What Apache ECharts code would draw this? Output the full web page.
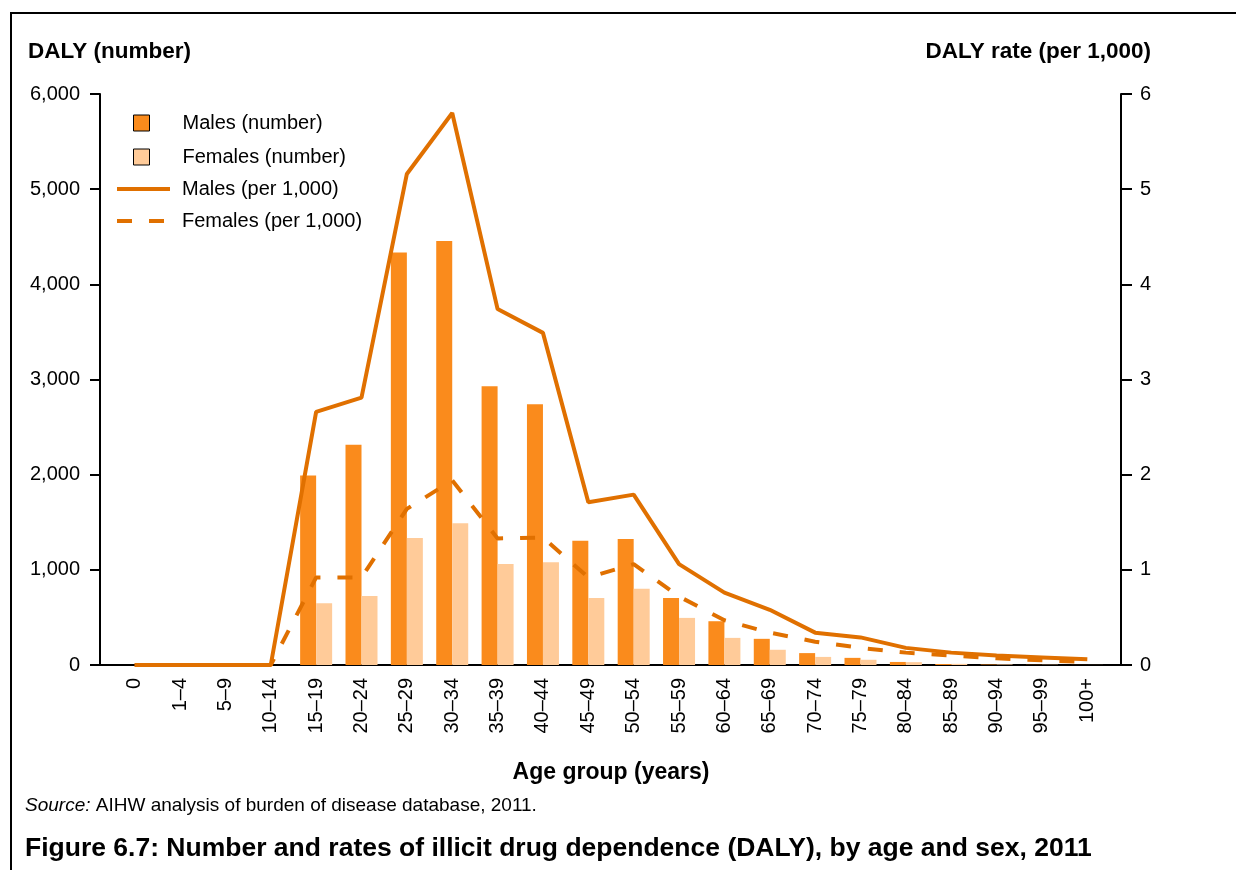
<!DOCTYPE html>
<html>
<head>
<meta charset="utf-8">
<script src="https://cdn.jsdelivr.net/npm/echarts@6/dist/echarts.min.js"></script>
<style>
html,body{margin:0;padding:0;background:#fff;}
#chart{width:1236px;height:870px;}
</style>
</head>
<body>
<div id="chart"></div>
<script>
const categories = ['0','1–4','5–9','10–14','15–19','20–24','25–29','30–34','35–39','40–44','45–49','50–54','55–59','60–64','65–69','70–74','75–79','80–84','85–89','90–94','95–99','100+'];
const malesNumber = [0,0,0,0,1990,2315,4335,4455,2930,2740,1305,1325,705,460,275,125,75,32,10,5,2,1];
const femalesNumber = [0,0,0,0,650,725,1335,1490,1060,1080,705,800,495,285,160,85,55,30,12,6,3,1];
const malesRate = [0,0,0,0,2.66,2.81,5.16,5.80,3.74,3.49,1.71,1.79,1.06,0.76,0.58,0.34,0.29,0.18,0.13,0.10,0.08,0.06];
const femalesRate = [0,0,0,0,0.92,0.92,1.64,1.94,1.33,1.34,0.92,1.06,0.72,0.47,0.34,0.245,0.18,0.13,0.10,0.07,0.05,0.03];
const leftTicks = ['0','1,000','2,000','3,000','4,000','5,000','6,000'];
const rightTicks = ['0','1','2','3','4','5','6'];

const FONT = "'Liberation Sans', Arial, sans-serif";
const C_MALE_BAR = '#FA8B1C';
const C_FEMALE_BAR = '#FFCB99';
const C_LINE = '#E07000';

const chart = echarts.init(document.getElementById('chart'), null, {renderer: 'canvas'});
chart.setOption({
  backgroundColor: '#fff',
  animation: false,
  textStyle: {fontFamily: FONT, color: '#000'},
  title: [
    {text: 'DALY (number)', left: 28, top: 40, padding: 0,
     textStyle: {fontFamily: FONT, fontSize: 22.5, fontWeight: 'bold', color: '#000'}},
    {text: 'DALY rate (per 1,000)', right: 85, top: 40, padding: 0,
     textStyle: {fontFamily: FONT, fontSize: 22.5, fontWeight: 'bold', color: '#000'}},
    {text: '{i|Source:} AIHW analysis of burden of disease database, 2011.', left: 25, top: 796, padding: 0,
     textStyle: {fontFamily: FONT, fontSize: 19, fontWeight: 'normal', color: '#000',
       rich: {i: {fontFamily: FONT, fontSize: 19, fontStyle: 'italic', color: '#000'}}}},
    {text: 'Figure 6.7: Number and rates of illicit drug dependence (DALY), by age and sex, 2011', left: 25, top: 835, padding: 0,
     textStyle: {fontFamily: FONT, fontSize: 26.5, fontWeight: 'bold', color: '#000'}}
  ],
  legend: [
    {orient: 'vertical', left: 128, top: 108, itemWidth: 16, itemHeight: 16, itemGap: 14, icon: 'rect',
     data: ['Males (number)', 'Females (number)'],
     itemStyle: {borderColor: '#000', borderWidth: 1},
     textStyle: {fontFamily: FONT, fontSize: 20, color: '#000', padding: [0, 0, 0, 28]}},
    {orient: 'vertical', left: 110, top: 174, itemWidth: 53, itemHeight: 16, itemGap: 12,
     data: ['Males (per 1,000)', 'Females (per 1,000)'],
     itemStyle: {opacity: 0},
     lineStyle: {width: 4},
     textStyle: {fontFamily: FONT, fontSize: 20, color: '#000', padding: [0, 0, 0, 7]}}
  ],
  graphic: [
    {type: 'polyline', shape: {points: [[11, 870], [11, 13], [1236, 13]]},
     style: {stroke: '#000', lineWidth: 2, fill: null}, silent: true}
  ],
  grid: [
    {left: 112, right: 126, top: 94, bottom: 205},
    {left: 100, right: 115, top: 94, bottom: 205}
  ],
  xAxis: [
    {type: 'category', gridIndex: 0, data: categories, boundaryGap: true,
     axisLine: {show: false}, axisTick: {show: false},
     axisLabel: {rotate: 90, margin: 13, fontFamily: FONT, fontSize: 20, color: '#000', interval: 0},
     name: 'Age group (years)', nameLocation: 'middle', nameGap: 96,
     nameTextStyle: {fontFamily: FONT, fontSize: 23, fontWeight: 'bold', color: '#000'}},
    {type: 'value', gridIndex: 1, min: 0, max: 1,
     axisLine: {show: true, lineStyle: {color: '#000', width: 2}},
     axisTick: {show: false}, axisLabel: {show: false}, splitLine: {show: false}}
  ],
  yAxis: [
    {type: 'value', gridIndex: 0, position: 'left', offset: 12, min: 0, max: 6000, interval: 1000,
     axisLine: {show: true, lineStyle: {color: '#000', width: 2}},
     axisTick: {show: true, length: 10, lineStyle: {color: '#000', width: 2}},
     axisLabel: {margin: 20, fontFamily: FONT, fontSize: 20, color: '#000',
       formatter: function (v) { return leftTicks[Math.round(v / 1000)]; }},
     splitLine: {show: false}},
    {type: 'value', gridIndex: 0, position: 'right', offset: 11, min: 0, max: 6, interval: 1,
     axisLine: {show: true, lineStyle: {color: '#000', width: 2}},
     axisTick: {show: true, length: 11, lineStyle: {color: '#000', width: 2}},
     axisLabel: {margin: 19, fontFamily: FONT, fontSize: 20, color: '#000',
       formatter: function (v) { return rightTicks[Math.round(v)]; }},
     splitLine: {show: false}},
    {type: 'value', gridIndex: 1, show: false}
  ],
  series: [
    {name: 'Males (number)', type: 'bar', xAxisIndex: 0, yAxisIndex: 0, data: malesNumber,
     barWidth: 16, barGap: '0%', itemStyle: {color: C_MALE_BAR}},
    {name: 'Females (number)', type: 'bar', xAxisIndex: 0, yAxisIndex: 0, data: femalesNumber,
     barWidth: 16, barGap: '0%', itemStyle: {color: C_FEMALE_BAR}},
    {name: 'Males (per 1,000)', type: 'line', xAxisIndex: 0, yAxisIndex: 1, data: malesRate,
     symbol: 'none', lineStyle: {color: C_LINE, width: 4}, itemStyle: {color: C_LINE}},
    {name: 'Females (per 1,000)', type: 'line', xAxisIndex: 0, yAxisIndex: 1, data: femalesRate,
     symbol: 'none', lineStyle: {color: C_LINE, width: 4, type: [15, 17]}, itemStyle: {color: C_LINE}}
  ]
});
</script>
</body>
</html>
